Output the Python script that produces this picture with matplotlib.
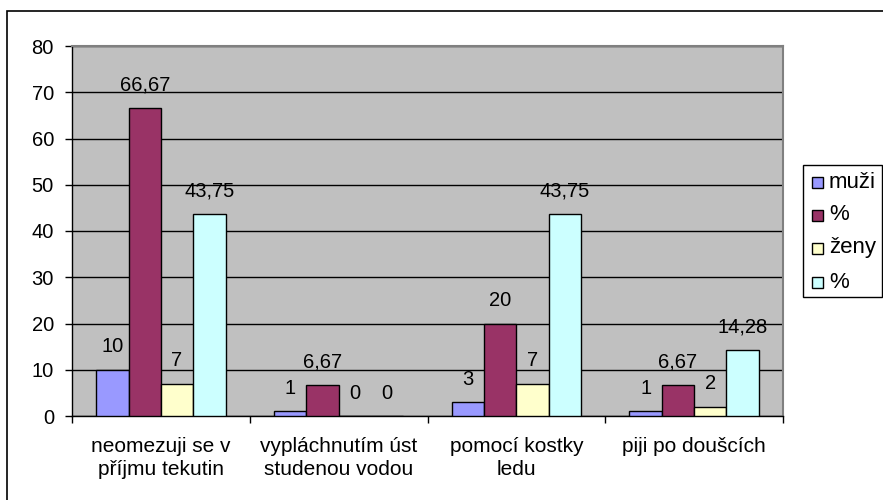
import matplotlib.pyplot as plt
import numpy as np
from matplotlib.patches import Rectangle

plt.rcParams['font.family'] = ['Liberation Sans', 'DejaVu Sans']

categories = ['neomezuji se v\npříjmu tekutin', 'vypláchnutím úst\nstudenou vodou',
              'pomocí kostky\nledu', 'piji po doušcích']
series_names = ['muži', '%', 'ženy', '%']
muzi = [10, 1, 3, 1]
muzi_pct = [66.67, 6.67, 20, 6.67]
zeny = [7, 0, 7, 2]
zeny_pct = [43.75, 0, 43.75, 14.28]
colors = ['#9999FF', '#993366', '#FFFFCC', '#CCFFFF']

W, H = 883, 500
FS = 14.5

fig = plt.figure(figsize=(W / 100, H / 100), dpi=100)


def px(x0, y0):
    # pixel (from top-left) -> figure fraction
    return x0 / W, 1 - y0 / H


# outer chart border (cut off at right and bottom like the original)
fig.patches.append(Rectangle((7 / W, -0.1), 1.2, 1 - 11 / H + 0.1, transform=fig.transFigure,
                             fill=False, edgecolor='black', linewidth=1.2))

ax = fig.add_axes([72 / W, 1 - 416 / H, (783 - 72) / W, (416 - 46) / H])
ax.set_facecolor('#C0C0C0')

x = np.arange(len(categories))
width = 0.182
all_series = [muzi, muzi_pct, zeny, zeny_pct]
for i, vals in enumerate(all_series):
    pos = x + (i - 1.5) * width
    ax.bar(pos, vals, width, color=colors[i], edgecolor='black', linewidth=1, zorder=3)
    for p, v in zip(pos, vals):
        lbl = ('%g' % v).replace('.', ',')
        ax.annotate(lbl, (p, v), xytext=(0, 12.5), textcoords='offset points',
                    ha='center', va='baseline', fontsize=FS, zorder=4)

ax.set_xlim(-0.5, len(categories) - 0.5)
ax.set_ylim(0, 80)
ax.set_yticks(range(0, 81, 10))
ax.yaxis.grid(True, color='black', linewidth=1, zorder=1)
ax.set_axisbelow(True)
ax.set_xticks(np.arange(-0.5, len(categories), 1))
ax.set_xticklabels([])
ax.set_xticks(x, minor=True)
ax.set_xticklabels(categories, minor=True, fontsize=15, linespacing=1.3)
ax.tick_params(axis='x', which='minor', length=0, pad=15)
ax.tick_params(axis='x', which='major', length=5, width=1, direction='out')
ax.tick_params(axis='y', length=5, width=1, direction='out', labelsize=FS, pad=8)

for s in ['top', 'right']:
    ax.spines[s].set_color('#808080')
    ax.spines[s].set_linewidth(1.5)
for s in ['left', 'bottom']:
    ax.spines[s].set_color('black')
    ax.spines[s].set_linewidth(1)

# legend drawn by hand to match the boxed Excel legend
lx0, ly0 = px(803, 297)
lx1, ly1 = px(882, 165)
fig.patches.append(Rectangle((lx0, ly0), lx1 - lx0, ly1 - ly0, transform=fig.transFigure,
                             facecolor='white', edgecolor='black', linewidth=1))
entry_y = [182, 215, 248, 282]
for name, c, ey in zip(series_names, colors, entry_y):
    sx, sy = px(812, ey + 5.5)
    fig.patches.append(Rectangle((sx, sy), 11 / W, 11 / H, transform=fig.transFigure,
                                 facecolor=c, edgecolor='black', linewidth=1))
    tx, ty = px(829, ey)
    fig.text(tx, ty, name, ha='left', va='center', fontsize=16)

fig.savefig('out.png', dpi=100, facecolor='white')
